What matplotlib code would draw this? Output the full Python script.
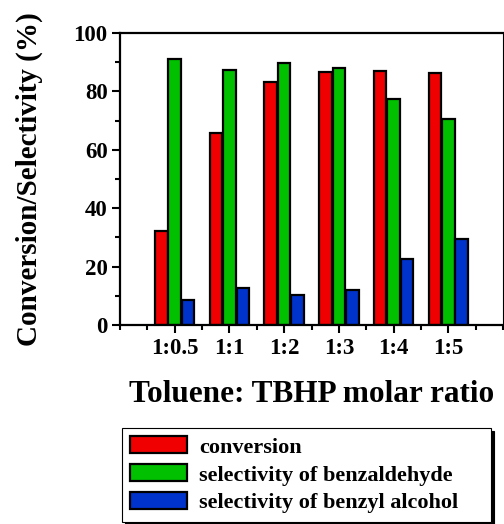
import numpy as np
import matplotlib.pyplot as plt
from matplotlib.ticker import MultipleLocator

ratios = ["1:0.5", "1:1", "1:2", "1:3", "1:4", "1:5"]
conversion = [32.2, 65.7, 83.3, 86.7, 87.1, 86.4]
sel_benzaldehyde = [91.1, 87.2, 89.6, 88.1, 77.5, 70.6]
sel_benzyl_alcohol = [8.6, 12.7, 10.3, 11.9, 22.5, 29.4]

plt.rcParams['font.family'] = 'Liberation Serif'
plt.rcParams['font.weight'] = 'bold'

fig = plt.figure(figsize=(5.04, 5.24), dpi=100)
ax = fig.add_axes([120/504, 1 - 325/524, 383/504, 292/524])

x = np.arange(1, len(ratios) + 1)
w = 0.23
bar_kw = dict(edgecolor='black', linewidth=1.6)
ax.bar(x - 0.245, conversion, w, color='#f00000', label='conversion', **bar_kw)
ax.bar(x, sel_benzaldehyde, w, color='#00c000', label='selectivity of benzaldehyde', **bar_kw)
ax.bar(x + 0.245, sel_benzyl_alcohol, w, color='#0033cc', label='selectivity of benzyl alcohol', **bar_kw)

ax.set_xlim(0, 7)
ax.set_ylim(0, 100)
ax.set_xticks(x)
ax.set_xticklabels(ratios)
ax.xaxis.set_minor_locator(MultipleLocator(0.5))
ax.yaxis.set_major_locator(MultipleLocator(20))
ax.yaxis.set_minor_locator(MultipleLocator(10))
ax.tick_params(which='major', length=6, width=1.5, labelsize=16.5, pad=3)
ax.tick_params(which='minor', length=3.5, width=1.5)
for s in ['left', 'bottom', 'top']:
    ax.spines[s].set_linewidth(1.6)
ax.spines['right'].set_linewidth(0.8)

ax.set_xlabel("Toluene: TBHP molar ratio", fontsize=22.5, fontweight='bold', labelpad=15.5)
ax.set_ylabel("Conversion/Selectivity (%)", fontsize=21, fontweight='bold', labelpad=22)

# legend box sits under the axes, with a solid drop shadow
leg = fig.legend(loc='upper left', bbox_to_anchor=(122/504, 1 - 428/524 - 0.01, 369/504, 0.01),
                 mode='expand', fontsize=16, frameon=True, fancybox=False,
                 shadow={'color': 'black', 'alpha': 1}, handlelength=2.55, handleheight=0.8,
                 handletextpad=0.55, labelspacing=0.3, borderpad=0.38, borderaxespad=0)
leg.get_frame().set_edgecolor('black')
leg.get_frame().set_linewidth(0.8)
for h in leg.legend_handles:
    h.set_linewidth(1.6)

fig.savefig('out.png', dpi=100)
